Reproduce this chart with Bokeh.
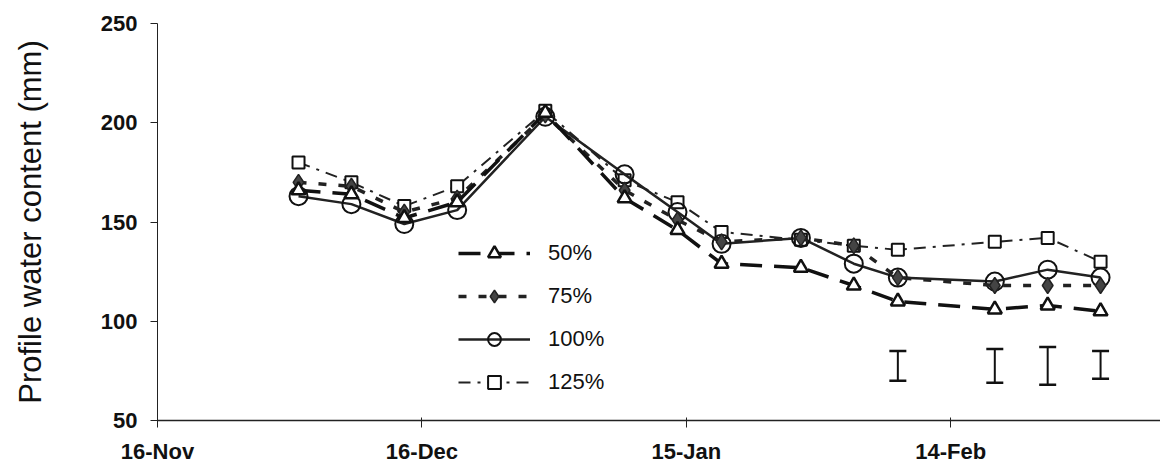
import pandas as pd
from bokeh.plotting import figure
from bokeh.models import (Range1d, FixedTicker, DatetimeTickFormatter, Legend,
                          LegendItem, Whisker, TeeHead, ColumnDataSource)
from bokeh.embed import file_html
from bokeh.resources import INLINE

# ---------------- data ----------------
dates = ["1998-12-02", "1998-12-08", "1998-12-14", "1998-12-20", "1998-12-30",
         "1999-01-08", "1999-01-14", "1999-01-19", "1999-01-28", "1999-02-03",
         "1999-02-08", "1999-02-19", "1999-02-25", "1999-03-03"]
w50 = [166, 164, 152, 160, 205, 162, 146, 129, 127, 118, 110, 106, 108, 105]
w75 = [170, 168, 155, 162, 204, 166, 151, 140, 142, 138, 122, 118, 118, 118]
w100 = [163, 159, 149, 156, 203, 174, 155, 139, 142, 129, 122, 120, 126, 122]
w125 = [180, 170, 158, 168, 206, 171, 160, 145, 141, 138, 136, 140, 142, 130]
series_labels = ["50%", "75%", "100%", "125%"]

lsd_dates = ["1999-02-08", "1999-02-19", "1999-02-25", "1999-03-03"]
lsd_upper = [85, 86, 87, 85]
lsd_lower = [70, 69, 68, 71]

tick_dates = ["1998-11-16", "1998-12-16", "1999-01-15", "1999-02-14"]
x_start = "1998-11-16"
x_span_days = 113.8

# ---------------- figure ----------------
FONT = "Liberation Sans"
x = pd.to_datetime(dates)
start = pd.Timestamp(x_start)
end = start + pd.Timedelta(days=x_span_days)

p = figure(width=1160, height=466, x_axis_type="datetime",
           x_range=Range1d(start, end), y_range=Range1d(50, 250),
           output_backend="svg", toolbar_location=None,
           min_border_left=157, min_border_right=0,
           min_border_top=23, min_border_bottom=45)
p.outline_line_color = None
p.xgrid.grid_line_color = None
p.ygrid.grid_line_color = None
p.background_fill_color = "white"
p.border_fill_color = "white"

# axes
xa = p.xaxis[0]
xa.ticker = FixedTicker(ticks=[pd.Timestamp(t).value / 1e6 for t in tick_dates])
fmt = "%d-%b"
xa.formatter = DatetimeTickFormatter(days=fmt, months=fmt, years=fmt, hours=fmt,
                                     minutes=fmt, seconds=fmt, milliseconds=fmt,
                                     microseconds=fmt, hourmin=fmt, minsec=fmt)
xa.major_tick_in = 3
xa.major_tick_out = 7
xa.minor_tick_line_color = None
xa.axis_line_width = 1.5
xa.axis_line_color = "#222222"
xa.major_tick_line_color = "#222222"
xa.major_label_text_font = FONT
xa.major_label_text_font_size = "22px"
xa.major_label_text_font_style = "bold"
xa.major_label_text_color = "#111111"
xa.major_label_standoff = 11

ya = p.yaxis[0]
ya.ticker = FixedTicker(ticks=[50, 100, 150, 200, 250])
ya.major_tick_in = 0
ya.major_tick_out = 7
ya.minor_tick_line_color = None
ya.axis_line_color = "#222222"
ya.major_tick_line_color = "#222222"
ya.major_label_text_font = FONT
ya.major_label_text_font_size = "22px"
ya.major_label_text_font_style = "bold"
ya.major_label_text_color = "#111111"
ya.major_label_standoff = 13
ya.axis_label = "Profile water content (mm)"
ya.axis_label_text_font = FONT
ya.axis_label_text_font_size = "31px"
ya.axis_label_text_font_style = "normal"
ya.axis_label_text_color = "#111111"
ya.axis_label_standoff = 50

# series (draw order: 125 -> 100 -> 75 -> 50)
r125l = p.line(x, w125, line_color="#222222", line_width=2, line_dash="12 7 3 7")
r125m = p.scatter(x, w125, marker="square", size=12, fill_color="white",
                  line_color="#111111", line_width=2)
r100l = p.line(x, w100, line_color="#222222", line_width=2.5)
r100m = p.scatter(x, w100, marker="circle", size=18, fill_color="white",
                  fill_alpha=0.0, line_color="#111111", line_width=2)
r75l = p.line(x, w75, line_color="#222222", line_width=3.5, line_dash="8 12")
r75m = p.scatter(x, w75, marker="diamond", size=16, fill_color="#444444",
                 line_color="#222222", line_width=1.5)
r50l = p.line(x, w50, line_color="#111111", line_width=3.5, line_dash="22 12")
r50m = p.scatter(x, w50, marker="triangle", size=14, fill_color="white",
                 line_color="#111111", line_width=2.5)

# LSD bars
src = ColumnDataSource(dict(base=pd.to_datetime(lsd_dates), upper=lsd_upper, lower=lsd_lower))
wh = Whisker(base="base", upper="upper", lower="lower", source=src,
             line_color="#111111", line_width=2,
             upper_head=TeeHead(size=17, line_color="#111111", line_width=2.5),
             lower_head=TeeHead(size=17, line_color="#111111", line_width=2.5))
p.add_layout(wh)

legend = Legend(items=[
    LegendItem(label=series_labels[0], renderers=[r50l, r50m]),
    LegendItem(label=series_labels[1], renderers=[r75l, r75m]),
    LegendItem(label=series_labels[2], renderers=[r100l, r100m]),
    LegendItem(label=series_labels[3], renderers=[r125l, r125m]),
], location=(301, 22), glyph_width=72, glyph_height=32, label_height=32,
    spacing=11, padding=0, margin=0, label_standoff=18,
    border_line_color=None, background_fill_alpha=0.0,
    label_text_font=FONT, label_text_font_size="22px",
    label_text_color="#111111")
p.add_layout(legend, "center")

open("out.html", "w").write(file_html(p, INLINE))
